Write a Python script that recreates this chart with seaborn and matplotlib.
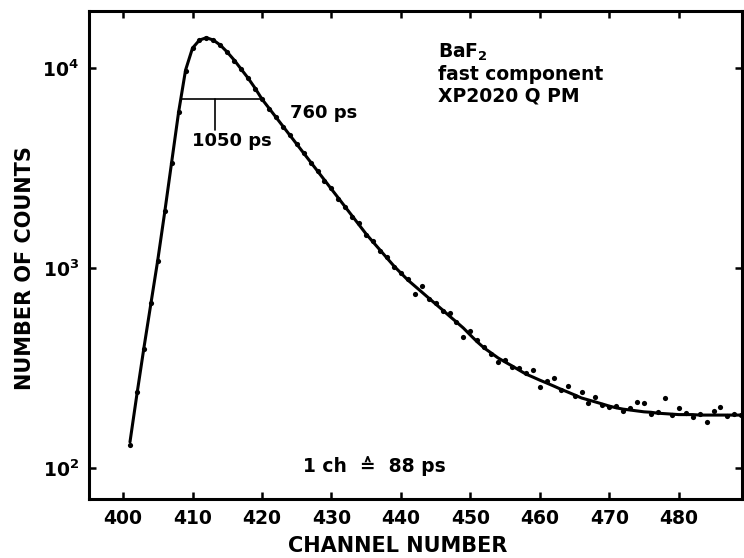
import matplotlib
matplotlib.use("Agg")
import matplotlib.pyplot as plt
import seaborn as sns
import pandas as pd
from matplotlib.ticker import NullLocator, FixedLocator

# ---- data ----
channels = list(range(401, 490))

# fitted curve (counts) at each channel
fit_counts = [135, 234, 398, 661, 1096, 1905, 3388, 6026, 9772, 12589,
              13804, 14191, 13804, 13032, 12023, 10965, 9886, 8913, 7943, 6998,
              6310, 5689, 5129, 4624, 4169, 3758, 3388, 3055, 2754, 2483,
              2239, 2018, 1820, 1641, 1479, 1349, 1230, 1122, 1023, 944,
              871, 813, 759, 708, 661, 617, 575, 537, 501, 462,
              427, 398, 376, 355, 339, 324, 309, 295, 285, 275,
              266, 257, 248, 240, 232, 224, 219, 214, 209, 204,
              200, 197, 195, 193, 191, 190, 188, 187, 186, 185,
              185, 185, 184, 184, 184, 184, 184, 184, 184]

# measured points (counts) at each channel
data_counts = [130, 240, 392, 670, 1090, 1920, 3370, 6050, 9700, 12600,
               13900, 14150, 13850, 13000, 12050, 10900, 9900, 8950, 7900, 7000,
               6280, 5720, 5100, 4650, 4150, 3780, 3370, 3070, 2740, 2500,
               2220, 2030, 1810, 1679, 1470, 1360, 1220, 1130, 1015, 950,
               880, 741, 815, 700, 668, 610, 596, 540, 452, 484,
               437, 405, 372, 339, 345, 320, 315, 300, 309, 254,
               272, 282, 245, 257, 228, 240, 211, 226, 206, 202,
               205, 192, 200, 214, 211, 186, 190, 224, 184, 200,
               188, 180, 186, 170, 193, 202, 182, 186, 185]

y_ticks = [100, 1000, 10000]
y_tick_labels = [r"$\mathbf{10^{2}}$", r"$\mathbf{10^{3}}$", r"$\mathbf{10^{4}}$"]
x_ticks = [400, 410, 420, 430, 440, 450, 460, 470, 480]

# FWHM marker: start/end channel, level, centre channel and tick bottom
fwhm_x = [408.5, 420.0]
fwhm_level = 7000
fwhm_mark_x = 413.2
fwhm_mark_bottom = 4900

df_fit = pd.DataFrame({"channel": channels, "counts": fit_counts})
df_pts = pd.DataFrame({"channel": channels, "counts": data_counts})

sns.set_theme(style="ticks")
plt.rcParams["font.family"] = ["DejaVu Sans"]
plt.rcParams["mathtext.fontset"] = "dejavusans"
for key in ["text.color", "axes.labelcolor", "xtick.color", "ytick.color",
            "axes.edgecolor"]:
    plt.rcParams[key] = "black"

fig = plt.figure(figsize=(7.44, 5.58), dpi=100)
ax = fig.add_axes([89 / 744, 1 - 499 / 558, (742 - 89) / 744, (499 - 11) / 558])

sns.lineplot(data=df_fit, x="channel", y="counts", ax=ax, color="black",
             linewidth=2.2, legend=False)
sns.scatterplot(data=df_pts, x="channel", y="counts", ax=ax, color="black",
                s=14, edgecolor="black", linewidth=0, legend=False, zorder=3)

ax.set_yscale("log")
ax.set_xlim(395.1, 489.1)
ax.set_ylim(70, 19300)

ax.yaxis.set_major_locator(FixedLocator(y_ticks))
ax.yaxis.set_minor_locator(NullLocator())
ax.set_yticklabels(y_tick_labels)
ax.set_xticks(x_ticks)
ax.set_xticklabels([str(v) for v in x_ticks], fontweight="bold")

for side in ["left", "right", "top", "bottom"]:
    ax.spines[side].set_visible(True)
    ax.spines[side].set_linewidth(2.2)
    ax.spines[side].set_color("black")

ax.tick_params(axis="both", which="major", direction="in", length=5, width=1.8,
               colors="black", labelsize=13.5, top=True, right=True)
ax.tick_params(axis="x", pad=7)
ax.tick_params(axis="y", pad=7)
ax.tick_params(which="minor", left=False, right=False, top=False, bottom=False)

ax.set_xlabel("CHANNEL NUMBER", fontsize=15, fontweight="bold", color="black")
ax.set_ylabel("NUMBER OF COUNTS", fontsize=15, fontweight="bold", color="black")
ax.xaxis.set_label_coords(0.473, -0.075)
ax.yaxis.set_label_coords(-0.083, 0.473)

# FWHM marker
ax.plot(fwhm_x, [fwhm_level, fwhm_level], color="black", linewidth=1.2)
ax.plot([fwhm_mark_x, fwhm_mark_x], [fwhm_level, fwhm_mark_bottom],
        color="black", linewidth=1.2)

ax.text(0.158, 0.734, "1050 ps", transform=ax.transAxes, fontsize=13,
        fontweight="bold", va="center", ha="left", color="black")
ax.text(0.308, 0.791, "760 ps", transform=ax.transAxes, fontsize=13,
        fontweight="bold", va="center", ha="left", color="black")
ax.text(0.534, 0.937, "BaF$_{\\mathbf{2}}$\nfast component\nXP2020 Q PM",
        transform=ax.transAxes, fontsize=13.5, fontweight="bold",
        va="top", ha="left", linespacing=1.15, color="black")
ax.text(0.327, 0.068, "1 ch  \u2259  88 ps", transform=ax.transAxes, fontsize=13.5,
        fontweight="bold", va="center", ha="left", color="black")

fig.savefig("out.png", dpi=100)
